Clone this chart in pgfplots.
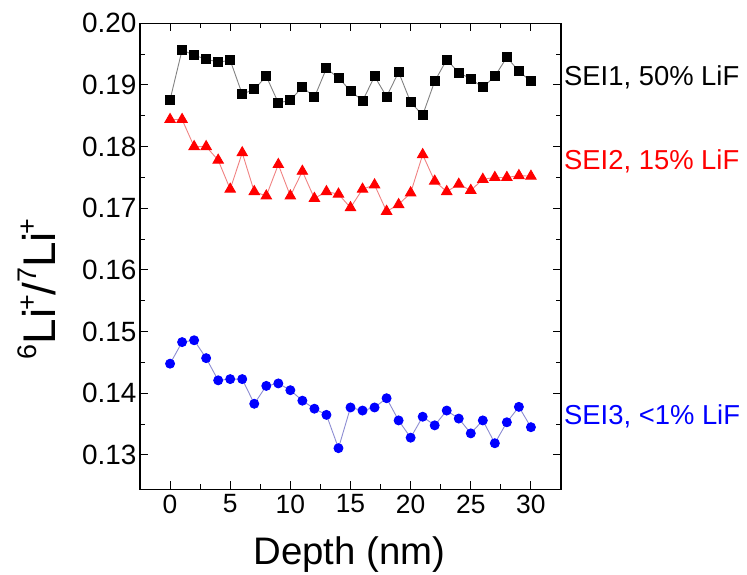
\documentclass[border=0pt]{standalone}
\usepackage{pgfplots}
\pgfplotsset{compat=1.18}
\usepackage{fontspec}
\setmainfont{Liberation Sans}
\usetikzlibrary{calc}
\definecolor{lineblack}{RGB}{130,130,130}
\definecolor{linered}{RGB}{240,130,130}
\definecolor{lineblue}{RGB}{140,140,210}
\newcommand{\sups}[1]{\raisebox{0.42em}{\fontsize{27}{27}\selectfont #1}}
\begin{document}
\begin{tikzpicture}
\begin{axis}[
  scale only axis, width=421bp, height=466bp,
  xmin=-2.5, xmax=32.5, ymin=0.12443, ymax=0.2,
  xtick={0,5,10,15,20,25,30}, minor x tick num=1,
  ytick={0.13,0.14,0.15,0.16,0.17,0.18,0.19,0.20}, minor y tick num=1,
  tick align=inside, xtick pos=both, ytick pos=both,
  xticklabel pos=lower, yticklabel pos=left,
  /pgf/number format/assume math mode=true,
  yticklabel style={/pgf/number format/fixed, /pgf/number format/fixed zerofill, /pgf/number format/precision=2, font=\fontsize{28}{28}\selectfont},
  xticklabel style={font=\fontsize{26.5}{26.5}\selectfont, yshift=-2bp},
  major tick length=8bp, minor tick length=5bp,
  axis line style={line width=1.3bp},
  every tick/.style={line width=1bp, black},
  xlabel={Depth (nm)},
  ylabel={\sups{6}Li\kern-0.05em\sups{+}/\sups{7}Li\kern-0.05em\sups{+}},
  xlabel style={font=\fontsize{38.5}{38.5}\selectfont, at={(axis description cs:0.497,-0.161)}, anchor=base},
  ylabel style={font=\fontsize{46}{46}\selectfont, at={(axis description cs:-0.245,0.43)}, anchor=center},
  clip=false,
]
\coordinate (SW) at (rel axis cs:0,0);
\coordinate (NE) at (rel axis cs:1,1);
\addplot[color=lineblack, line width=0.9bp, mark=square*, mark size=4.5bp, mark options={black, fill=black, solid}] coordinates {
(0,0.1876) (1,0.1957) (2,0.1948) (3,0.1942) (4,0.1937) (5,0.1940) (6,0.1885) (7,0.1893) (8,0.1914) (9,0.1871) (10,0.1875)
(11,0.1897) (12,0.1880) (13,0.1927) (14,0.1911) (15,0.1891) (16,0.1874) (17,0.1914) (18,0.1881) (19,0.1921) (20,0.1872)
(21,0.1851) (22,0.1906) (23,0.1941) (24,0.1920) (25,0.1910) (26,0.1896) (27,0.1914) (28,0.1945) (29,0.1922) (30,0.1906)
};
\addplot[color=linered, line width=0.9bp, mark=triangle*, mark size=6bp, mark options={red, fill=red, solid}] coordinates {
(0,0.1844) (1,0.1844) (2,0.1800) (3,0.1800) (4,0.1778) (5,0.1731) (6,0.1790) (7,0.1727) (8,0.1720) (9,0.1771) (10,0.1720)
(11,0.1760) (12,0.1716) (13,0.1727) (14,0.1723) (15,0.1701) (16,0.1731) (17,0.1738) (18,0.1695) (19,0.1706) (20,0.1725)
(21,0.1787) (22,0.1744) (23,0.1727) (24,0.1739) (25,0.1729) (26,0.1747) (27,0.1750) (28,0.1750) (29,0.1753) (30,0.1752)
};
\addplot[color=lineblue, line width=0.9bp, mark=*, mark size=4.5bp, mark options={blue, fill=blue, solid}] coordinates {
(0,0.1448) (1,0.1483) (2,0.1486) (3,0.1457) (4,0.1421) (5,0.1423) (6,0.1423) (7,0.1383) (8,0.1412) (9,0.1416) (10,0.1405)
(11,0.1388) (12,0.1375) (13,0.1365) (14,0.1311) (15,0.1377) (16,0.1372) (17,0.1377) (18,0.1392) (19,0.1356) (20,0.1328)
(21,0.1362) (22,0.1348) (23,0.1372) (24,0.1359) (25,0.1335) (26,0.1356) (27,0.1319) (28,0.1353) (29,0.1378) (30,0.1345)
};
\node[anchor=west, inner sep=0pt, xshift=3bp, font=\fontsize{27.5}{27.5}\selectfont, text=black] at (axis cs:32.5,0.1912) {SEI1, 50\% LiF};
\node[anchor=west, inner sep=0pt, xshift=3bp, font=\fontsize{27.5}{27.5}\selectfont, text=red] at (axis cs:32.5,0.1776) {SEI2, 15\% LiF};
\node[anchor=west, inner sep=0pt, xshift=3bp, font=\fontsize{27.5}{27.5}\selectfont, text=blue] at (axis cs:32.5,0.13628) {SEI3, <1\% LiF};
\end{axis}
\pgfresetboundingbox
\path[use as bounding box] ($(SW)+(-140bp,-85bp)$) rectangle ($(NE)+(186bp,23.3bp)$);
\end{tikzpicture}
\end{document}
